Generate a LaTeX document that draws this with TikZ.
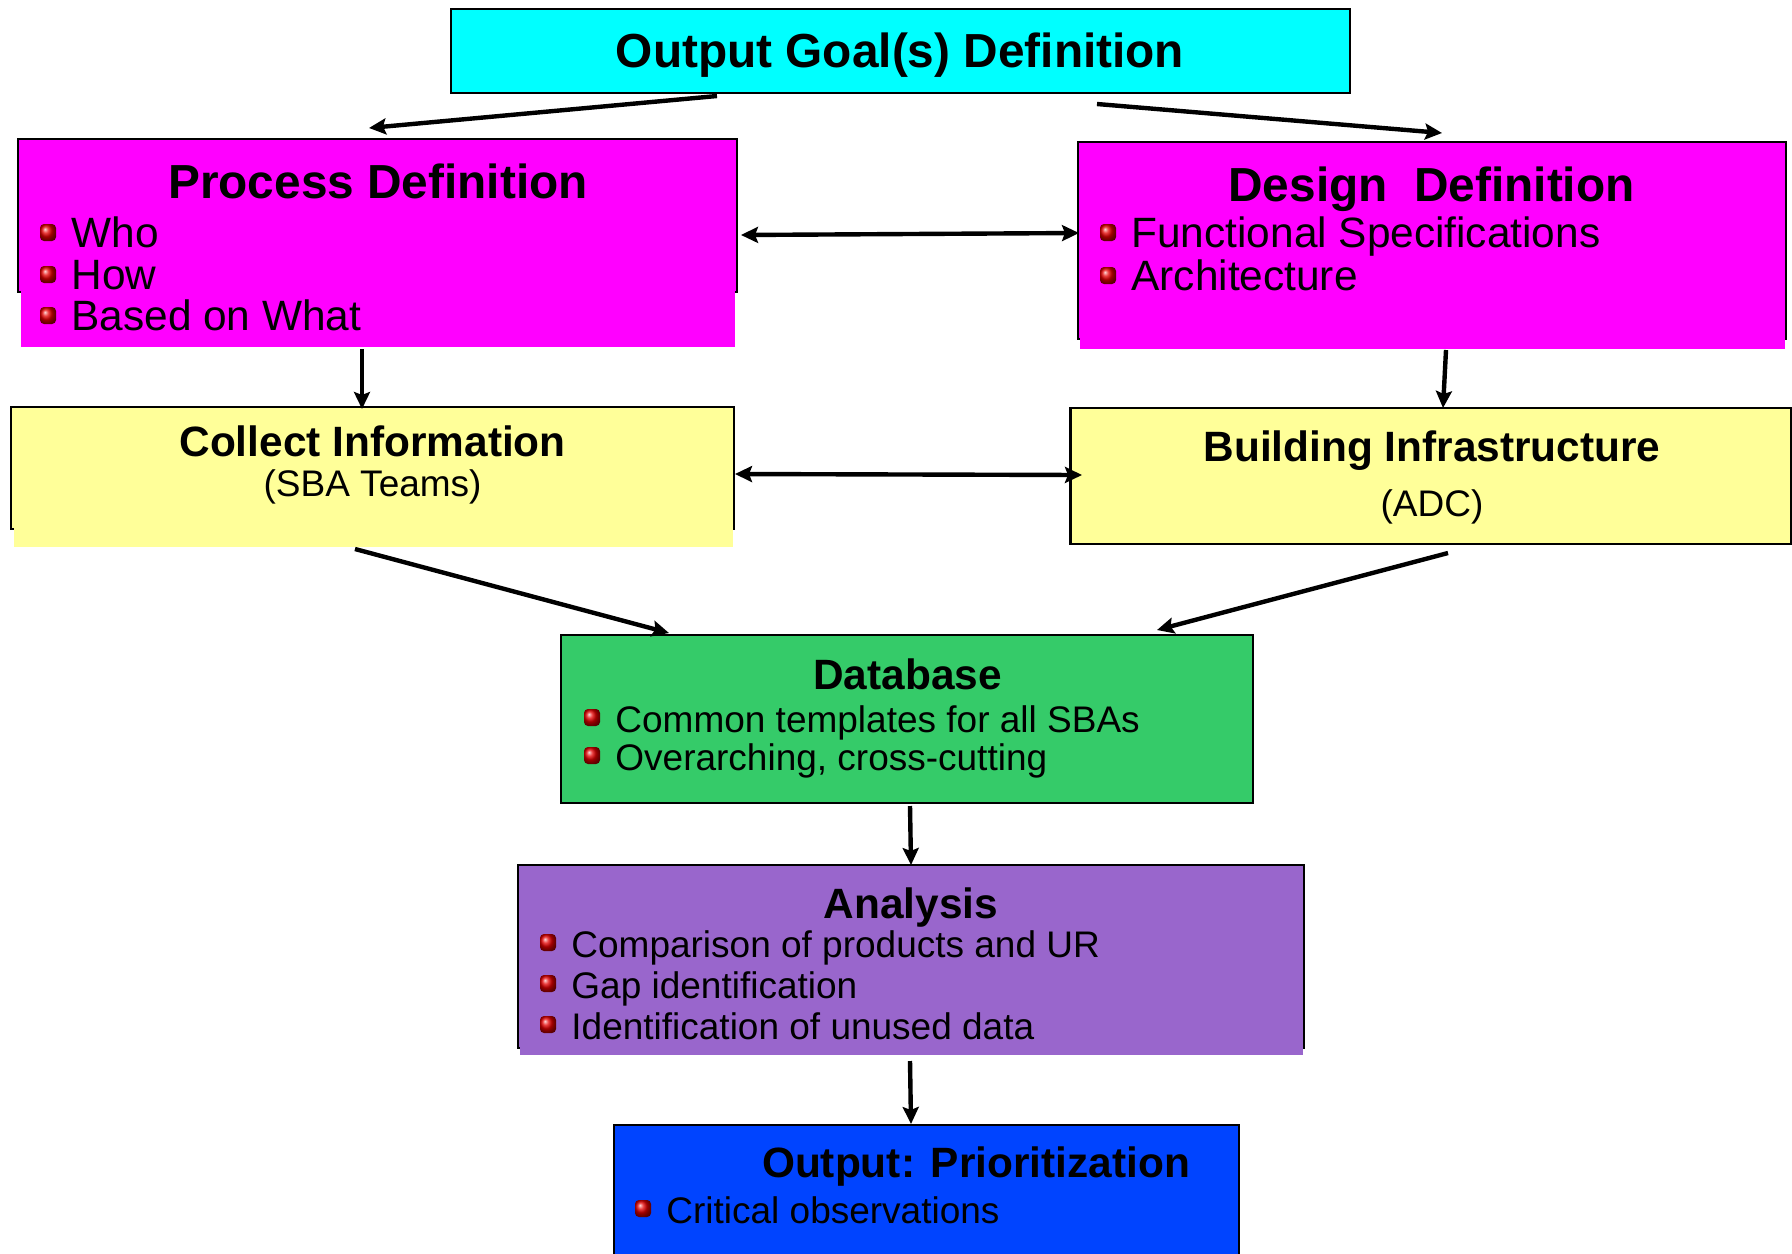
\documentclass[tikz,border=0pt]{standalone}
\usepackage{fontspec}
\setmainfont{Liberation Sans}
\usetikzlibrary{arrows.meta}
\definecolor{cyanbox}{HTML}{00FFFF}
\definecolor{magbox}{HTML}{FF00FF}
\definecolor{yelbox}{HTML}{FFFF99}
\definecolor{grnbox}{HTML}{35CB69}
\definecolor{purbox}{HTML}{9966CC}
\definecolor{blubox}{HTML}{0044FF}
\newcommand{\bitem}[4]{%
  \node[#4, anchor=base west] (#1) at #2 {#3};
  \shade[ball color=red!90!black, rounded corners=2pt]
    ([shift={(-31,-23)}]#1.base west) rectangle ([shift={(-15,-6)}]#1.base west);
}
\begin{document}
\begin{tikzpicture}[x=0.5pt,y=-0.5pt,
  boxline/.style={draw=black, line width=1.2pt, inner sep=0pt, outer sep=0pt},
  fillonly/.style={draw=none, inner sep=0pt, outer sep=0pt},
  ttlA/.style={font=\bfseries\fontsize{23.9}{28}\selectfont, anchor=base, inner sep=0pt},
  ttlB/.style={font=\bfseries\fontsize{21.2}{25}\selectfont, anchor=base, inner sep=0pt},
  itmA/.style={font=\fontsize{21.2}{25}\selectfont, inner sep=0pt},
  itmB/.style={font=\fontsize{18.5}{22}\selectfont, inner sep=0pt},
  arr/.style={line width=2.2pt, -{Stealth[length=8.5pt,width=8pt,inset=1.5pt]}},
  darr/.style={line width=2.2pt, {Stealth[length=8.5pt,width=8pt,inset=1.5pt]}-{Stealth[length=8.5pt,width=8pt,inset=1.5pt]}}]
\useasboundingbox (0,0) rectangle (1792,1253);
\clip (0,0) rectangle (1792,1253);

% boxes
\node[boxline, fill=cyanbox, minimum width=449.5pt, minimum height=42pt] (goal) at (900.5,51) {};
\node[boxline, fill=magbox, minimum width=359.5pt, minimum height=76.5pt] (procB) at (377.5,215.5) {};
\node[fillonly, fill=magbox, minimum width=357pt, minimum height=103pt] (procF) at (378,244) {};
\node[boxline, fill=magbox, minimum width=354pt, minimum height=98.5pt] (desB) at (1432,240.5) {};
\node[fillonly, fill=magbox, minimum width=352.5pt, minimum height=102.5pt] (desF) at (1432.5,246.5) {};
\node[boxline, fill=yelbox, minimum width=361.5pt, minimum height=61pt] (colB) at (372.5,468) {};
\node[fillonly, fill=yelbox, minimum width=359.5pt, minimum height=69pt] (colF) at (373.5,478) {};
\node[boxline, fill=yelbox, minimum width=360.5pt, minimum height=68pt] (bld) at (1431,476) {};
\node[boxline, fill=grnbox, minimum width=346pt, minimum height=84pt] (db) at (907,719) {};
\node[boxline, fill=purbox, minimum width=393pt, minimum height=91.5pt] (anaB) at (911,956.5) {};
\node[fillonly, fill=purbox, minimum width=391.5pt, minimum height=94pt] (anaF) at (911.5,961) {};
\node[boxline, fill=blubox, minimum width=312.5pt, minimum height=72.5pt] (outp) at (926.5,1197.5) {};

% titles
\node[ttlA] (tgoal) at (900,67) {Output Goal(s) Definition};
\node[ttlA] (tproc) at (378,198) {Process Definition};
\node[ttlA] (tdes) at (1431.5,201) {Design\ \ Definition};
\node[ttlB] (tcol) at (372.6,456) {Collect Information};
\node[itmB, anchor=base] (tcol2) at (372.6,496) {(SBA Teams)};
\node[ttlB] (tbld) at (1432,461) {Building Infrastructure};
\node[itmB, anchor=base] (tbld2) at (1432,516) {(ADC)};
\node[ttlB] (tdb) at (907.5,689) {Database};
\node[ttlB] (tana) at (911,918) {Analysis};
\node[ttlB] (toutp) at (976,1177) {Output: Prioritization};

% bullet items
\bitem{p1}{(71,247)}{Who}{itmA}
\bitem{p2}{(71,289)}{How}{itmA}
\bitem{p3}{(71,330)}{Based on What}{itmA}
\bitem{d1}{(1131,247)}{Functional Specifications}{itmA}
\bitem{d2}{(1131,290)}{Architecture}{itmA}
\bitem{b1}{(615,732)}{Common templates for all SBAs}{itmB}
\bitem{b2}{(615,770)}{Overarching, cross-cutting}{itmB}
\bitem{a1}{(571,957)}{Comparison of products and UR}{itmB}
\bitem{a2}{(571,998)}{Gap identification}{itmB}
\bitem{a3}{(571,1039)}{Identification of unused data}{itmB}
\bitem{o1}{(666,1223)}{Critical observations}{itmB}

% connector end points
\coordinate (g1) at (717,96);
\coordinate (pt) at (369,128);
\coordinate (g2) at (1097,104);
\coordinate (dt) at (1442,133);
\coordinate (pr) at (741,235);
\coordinate (dl) at (1079,233);
\coordinate (pb) at (362,349);
\coordinate (ct) at (362,409);
\coordinate (db0) at (1446,350);
\coordinate (bt) at (1443,408);
\coordinate (cr) at (735,474);
\coordinate (bl) at (1082,475);
\coordinate (cb) at (355,549);
\coordinate (dbl) at (669,633);
\coordinate (bb) at (1448,553);
\coordinate (dbr) at (1157,630);
\coordinate (dbb) at (910,806);
\coordinate (at) at (911,865);
\coordinate (ab) at (910,1061);
\coordinate (ot) at (911,1124);

\draw[arr] (g1) -- (pt);
\draw[arr] (g2) -- (dt);
\draw[darr] (pr) -- (dl);
\draw[arr] (pb) -- (ct);
\draw[arr] (db0) -- (bt);
\draw[darr] (cr) -- (bl);
\draw[arr] (cb) -- (dbl);
\draw[arr] (bb) -- (dbr);
\draw[arr] (dbb) -- (at);
\draw[arr] (ab) -- (ot);
\end{tikzpicture}
\end{document}
